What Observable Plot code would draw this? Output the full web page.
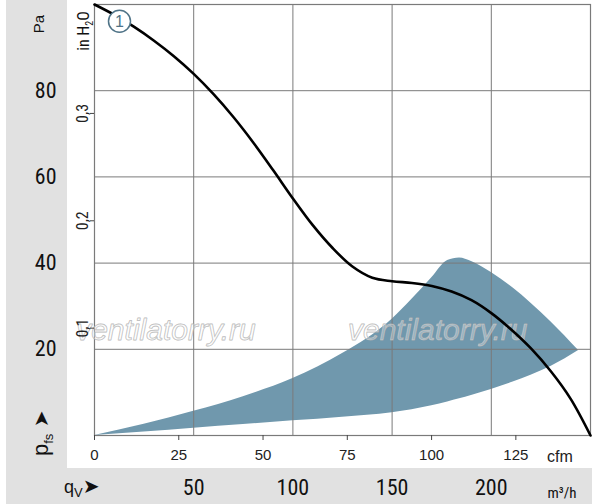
<!DOCTYPE html>
<html><head><meta charset="utf-8">
<script src="https://cdn.jsdelivr.net/npm/d3@7"></script>
<script src="https://cdn.jsdelivr.net/npm/@observablehq/plot@0.6"></script>
<style>
body{margin:0;background:#fff;}
#wrap{position:relative;width:600px;height:504px;overflow:hidden;background:#fff;}
.g{position:absolute;background:#e1e1e1;}
#wrap svg{position:absolute;left:0;top:0;}
</style></head><body>
<div id="wrap">
<div class="g" style="left:6px;top:0;width:61px;height:468px"></div>
<div class="g" style="left:6px;top:468px;width:586px;height:36px"></div>
</div>
<script>
// Fan curve 1: flow (m³/h) vs static pressure (Pa)
const curveQ = [0, 10, 20, 30, 40, 50, 60, 70, 80, 90, 100, 110, 120, 130, 140, 150, 160, 170, 180, 190, 200, 210, 220, 230, 240, 250];
const curveP = [100, 97.6, 94.8, 91.6, 88.0, 83.9, 79.2, 73.9, 68.0, 61.6, 55.0, 48.8, 43.5, 39.2, 36.6, 35.8, 35.4, 34.7, 33.4, 31.4, 28.4, 24.6, 20.2, 14.9, 8.5, 0];
// Shaded operating band
const bandQ    = [0, 25, 50, 75, 100, 125, 150, 160, 170, 178, 184, 190, 200, 211, 220, 230, 244];
const bandHigh = [0, 2.6, 5.6, 9.0, 13.2, 19.0, 27.0, 31.6, 36.6, 40.6, 41.2, 40.4, 37.8, 34.2, 30.7, 26.4, 19.7];
const bandLow  = [0, 0.8, 1.7, 2.55, 3.4, 4.25, 5.3, 6.0, 6.9, 7.8, 8.5, 9.3, 10.7, 12.4, 14.0, 16.0, 19.7];
// Ticks
const paTicks = [20, 40, 60, 80];
const m3hTicks = [50, 100, 150, 200];
const cfmTicks = [0, 25, 50, 75, 100, 125];
const inH2OTicks = [0.1, 0.2, 0.3];
const curveLabel = [{q: 12.6, p: 96.1, t: "1"}];
const watermark = [{q: 36, p: 24.5, t: "ventilatorry.ru"}, {q: 173, p: 24.5, t: "ventilatorry.ru"}];

const CFM = 1.699;     // m³/h per cfm
const INH2O = 249.089; // Pa per inH2O

const curve = curveQ.map((q, i) => ({q, p: curveP[i]}));
const band = bandQ.map((q, i) => ({q, lo: bandLow[i], hi: bandHigh[i]}));

const NARROW = "'Liberation Sans Narrow','Arial Narrow','Roboto Condensed',Roboto,sans-serif";
const grid = "#7a7a7a";

const svg = Plot.plot({
  width: 600, height: 504,
  marginLeft: 94, marginRight: 10, marginTop: 4, marginBottom: 69,
  x: {domain: [0, 250]},
  y: {domain: [0, 100]},
  style: {background: "transparent", fontFamily: "'Liberation Sans',Arial,sans-serif", color: "#111"},
  marks: [
    Plot.areaY(band, {x: "q", y1: "lo", y2: "hi", fill: "#7098ad", curve: "monotone-x"}),
    Plot.ruleX(m3hTicks, {stroke: grid, strokeWidth: 1}),
    Plot.ruleY(paTicks, {stroke: grid, strokeWidth: 1}),
    Plot.frame({stroke: grid, strokeWidth: 1.2}),
    Plot.text(watermark, {x: "q", y: "p", text: "t", fontSize: 30, fontStyle: "italic",
      fontFamily: "'Liberation Sans',Arial,sans-serif", fill: "white", fillOpacity: 0.3,
      stroke: "#b0b0b0", strokeWidth: 0.9, strokeOpacity: 0.9}),
    Plot.line(curve, {x: "q", y: "p", stroke: "#000", strokeWidth: 2.6, curve: "catmull-rom"}),
    Plot.dot(curveLabel, {x: "q", y: "p", r: 11, fill: "white", stroke: "#4f7387", strokeWidth: 1.5}),
    Plot.text(curveLabel, {x: "q", y: "p", text: "t", fill: "#4f7387", fontSize: 16, dy: 1}),
    // Pa axis (in grey panel)
    Plot.axisY(paTicks, {tickSize: 0, tickPadding: 38, fontSize: 22, fontFamily: NARROW, fill: "#111", label: null}),
    // in H2O axis
    Plot.axisY(inH2OTicks.map(v => v * INH2O), {tickFormat: d => (d / INH2O).toFixed(1).replace(".", ","),
      tickRotate: -90, tickSize: 4, tickPadding: 3, fontSize: 16, fontFamily: NARROW, fill: "#222", stroke: "#444", label: null}),
    // cfm axis
    Plot.axisX(cfmTicks.map(c => c * CFM), {tickFormat: d => String(Math.round(d / CFM)), tickSize: 5, tickPadding: 9,
      fontSize: 15, fill: "#222", stroke: "#444", label: null}),
    // m³/h axis (in grey band)
    Plot.axisX(m3hTicks, {tickSize: 0, tickPadding: 44, fontSize: 22, fontFamily: NARROW, fill: "#111", label: null})
  ]
});
document.getElementById("wrap").appendChild(svg);

// Unit labels and axis symbols
const s = d3.select(svg);
const sans = "'Liberation Sans',Arial,sans-serif";
function rotText(x, y, size, fam, anchor) {
  return s.append("text").attr("transform", `translate(${x},${y}) rotate(-90)`)
    .attr("text-anchor", anchor || "middle").attr("font-size", size).attr("font-family", fam).attr("fill", "#111");
}
rotText(44, 24, 15, sans).text("Pa");
const ih = rotText(89, 31, 16, NARROW);
ih.append("tspan").text("in H");
ih.append("tspan").attr("font-size", 10).attr("dy", 4).text("2");
ih.append("tspan").attr("dy", -4).text("O");
const pf = rotText(48, 456, 22, sans, "start");
pf.append("tspan").text("p");
pf.append("tspan").attr("font-size", 13).attr("dy", 5).text("fs");
pf.append("tspan").attr("dy", -5).attr("font-size", 20).attr("font-family", "'DejaVu Sans'").text(" ➤");
s.append("text").attr("x", 560).attr("y", 462).attr("text-anchor", "middle")
  .attr("font-size", 16).attr("font-family", sans).attr("fill", "#222").text("cfm");
s.append("text").attr("x", 562).attr("y", 498).attr("text-anchor", "middle")
  .attr("font-size", 15).attr("font-family", NARROW).attr("fill", "#111").text("m³/h");
const qv = s.append("text").attr("x", 64).attr("y", 493).attr("text-anchor", "start")
  .attr("font-size", 18).attr("font-family", sans).attr("fill", "#111");
qv.append("tspan").text("q");
qv.append("tspan").attr("font-size", 13).attr("dy", 4).text("V");
qv.append("tspan").attr("dy", -4).attr("font-size", 20).attr("font-family", "'DejaVu Sans'").text("➤");
</script>
</body></html>
